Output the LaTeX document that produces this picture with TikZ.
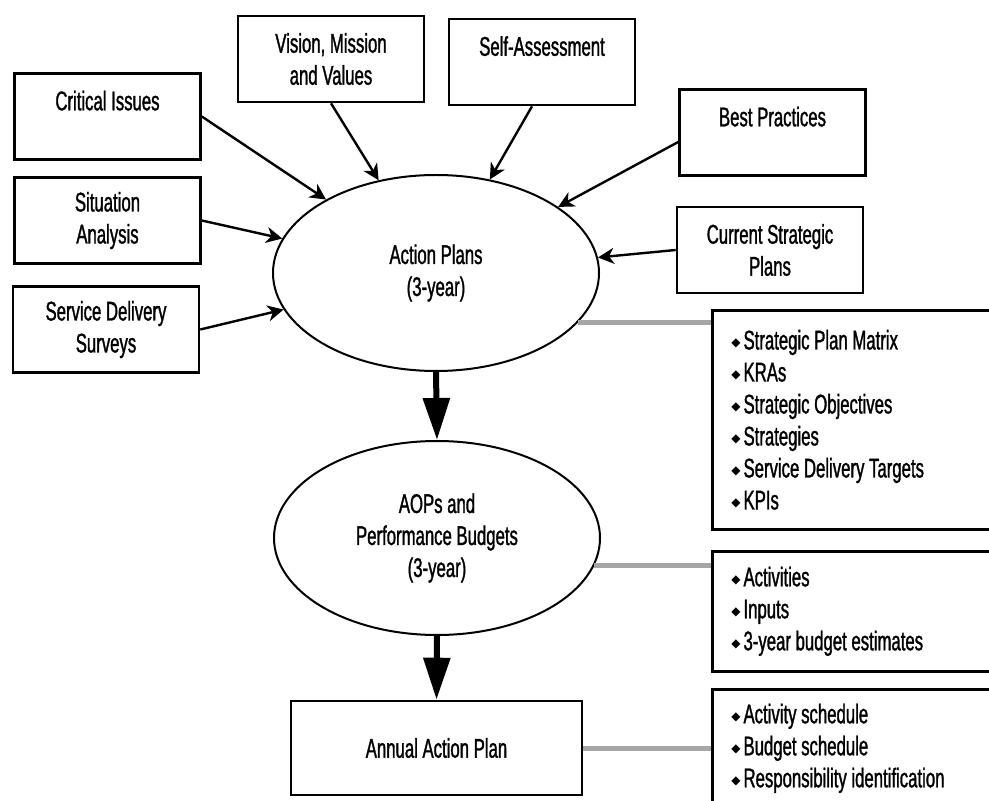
\documentclass[tikz,border=0pt]{standalone}
\usepackage{fontspec}
\setmainfont{Liberation Sans}[FakeStretch=0.62,FakeBold=1.2]
\newfontfamily\bulletfont{DejaVu Sans}
\usetikzlibrary{shapes.geometric,arrows.meta,positioning,calc}
\newcommand{\bul}{\raisebox{1.5pt}{\bulletfont\fontsize{6}{6}\selectfont ◆}\hspace{1.5pt}}

\begin{document}
\begin{tikzpicture}[
    x=0.5pt, y=-0.5pt,
    font=\fontsize{13.5}{16}\selectfont,
    inbox/.style={rectangle, draw=black, line width=1.3pt, minimum width=93pt, minimum height=43pt, align=center, inner sep=2pt},
    plan/.style={ellipse, draw=black, line width=1pt, minimum width=163pt, minimum height=98pt, align=center, inner sep=0pt},
    listbox/.style={rectangle, draw=black, line width=1.3pt, anchor=north west, text width=150pt, inner xsep=9.5pt, align=flush left},
    arrow/.style={-{Stealth[length=8pt,width=8pt,inset=2.5pt]}, line width=1.2pt},
    bigarrow/.style={-{Triangle[length=21pt,width=13pt]}, line width=3pt},
    link/.style={black!35, line width=2.5pt}
]
\useasboundingbox (0,0) rectangle (989,801);
\clip (0,0) rectangle (989,801);

% inputs
\node[inbox] (crit) at (107.5,116.5) {Critical Issues\\~};
\node[inbox] (situ) at (107.5,220.5) {Situation\\Analysis};
\node[inbox] (serv) at (106,329.5) {Service Delivery\\Surveys};
\node[inbox] (vision) at (331,59) {Vision, Mission\\and Values};
\node[inbox] (self) at (542,62) {Self-Assessment\\~};
\node[inbox] (best) at (772.5,132.5) {Best Practices\\~};
\node[inbox] (curr) at (770,250) {Current Strategic\\Plans};

% plans
\node[plan] (action) at (436,273) {Action Plans\\(3-year)};
\node[plan, minimum height=97pt] (aops) at (437,538) {AOPs and\\Performance Budgets\\(3-year)};
\node[inbox, minimum width=145.5pt, minimum height=47pt] (annual) at (436.5,748) {Annual Action Plan};

% contents
\node[listbox, minimum height=109.5pt] (kras) at (711,309) {
    \bul Strategic Plan Matrix\\
    \bul KRAs\\
    \bul Strategic Objectives\\
    \bul Strategies\\
    \bul Service Delivery Targets\\
    \bul KPIs
};
\node[listbox, minimum height=60pt] (inputs) at (711,550) {
    \bul Activities\\
    \bul Inputs\\
    \bul 3-year budget estimates
};
\node[listbox, minimum height=59pt] (sched) at (711,688) {
    \bul Activity schedule\\
    \bul Budget schedule\\
    \bul Responsibility identification
};

\draw[arrow] (crit.east) -- (action);
\draw[arrow] (situ.east) -- (action);
\draw[arrow] (serv.east) -- (action);
\draw[arrow] (vision.south) -- (action);
\draw[arrow] ([xshift=-5pt]self.south) -- (action);
\draw[arrow] ([yshift=-4.75pt]best.west) -- (action);
\draw[arrow] (curr.west) -- (action);

\draw[bigarrow] (action.south) -- (aops.north);
\draw[bigarrow] (aops.south) -- (annual.north);

\draw[link] (action.-19) -- (action.-19 -| kras.west);
\draw[link] (aops.-10) -- (aops.-10 -| inputs.west);
\draw[link] (annual.east) -- (annual.east -| sched.west);

\end{tikzpicture}
\end{document}
